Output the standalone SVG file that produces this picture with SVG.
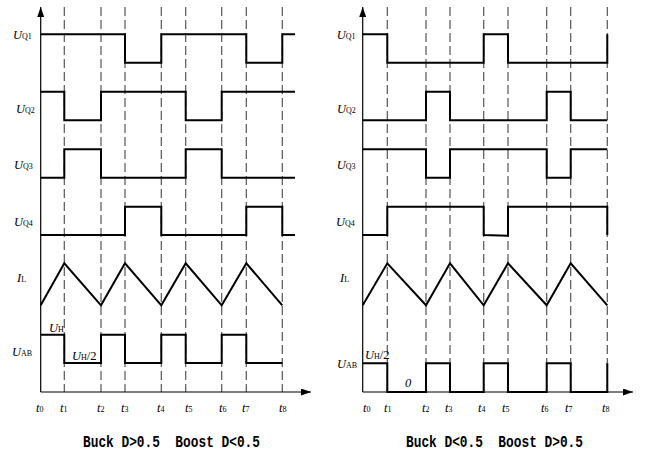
<svg xmlns="http://www.w3.org/2000/svg" width="646" height="453" viewBox="0 0 646 453">
<style>
.ax{stroke:#000;stroke-width:1.2;fill:none}
.dash{stroke:#555;stroke-width:1.2;stroke-dasharray:9 4;fill:none}
.sig{stroke:#000;stroke-width:2;fill:none;stroke-linejoin:miter}
.lb{font-family:"Liberation Serif",serif;font-size:12.5px;font-style:italic;fill:#000}
.sb{font-size:8px;font-style:normal}
.cap{font-family:"Liberation Mono",monospace;font-size:17px;font-weight:bold;fill:#000;white-space:pre}
</style>
<defs>
<marker id="ah" markerWidth="10" markerHeight="7" refX="10" refY="3.5" orient="auto" markerUnits="userSpaceOnUse">
<path d="M0,0 L10,3.5 L0,7 z" fill="#000"/>
</marker>
</defs>
<g id="connectors">
<g id="left-grid">
<path class="dash" d="M64.3,7V392M101,7V392M125,7V392M161.3,7V392M185.7,7V392M221.7,7V392M246.3,7V392M282.3,7V392"/>
<line class="ax" x1="40.7" y1="392" x2="40.7" y2="7" marker-end="url(#ah)"/>
<line class="ax" x1="40.7" y1="392" x2="311" y2="392" marker-end="url(#ah)"/>
</g>
<g id="right-grid">
<path class="dash" d="M387.3,7V392M426,7V392M450,7V392M483.7,7V392M508,7V392M546.7,7V392M570.7,7V392M607.3,7V392"/>
<line class="ax" x1="362.7" y1="392" x2="362.7" y2="7" marker-end="url(#ah)"/>
<line class="ax" x1="362.7" y1="392" x2="633" y2="392" marker-end="url(#ah)"/>
</g>
</g>
<g id="left-signals">
<path id="L-UQ1" class="sig" d="M40.7,34.3H125V62.7H161.3V34.3H246.3V62.7H282.3V34.3H295"/>
<path id="L-UQ2" class="sig" d="M40.7,91.7H64.3V120.3H101V91.7H185.7V120.3H221.7V91.7H295"/>
<path id="L-UQ3" class="sig" d="M40.7,177.7H64.3V149.3H101V177.7H185.7V149.3H221.7V177.7H295"/>
<path id="L-UQ4" class="sig" d="M40.7,235H125V206.7H161.3V235H246.3V206.7H282.3V235H295"/>
<path id="L-IL" class="sig" d="M40.7,305.3L64.3,263.3L101,305.3L125,263.3L161.3,305.3L185.7,263.3L221.7,305.3L246.3,263.3L282.3,305.3"/>
<path id="L-UAB" class="sig" d="M40.7,334.7H64.3V363H101V334.7H125V363H161.3V334.7H185.7V363H221.7V334.7H246.3V363H282.3"/>
</g>
<g id="right-signals">
<path id="R-UQ1" class="sig" d="M362.7,34.3H387.3V62.7H483.7V34.3H508V62.7H607.3V34.3"/>
<path id="R-UQ2" class="sig" d="M362.7,120.3H426V91.7H450V120.3H546.7V91.7H570.7V120.3H607.3"/>
<path id="R-UQ3" class="sig" d="M362.7,149.3H426V177.7H450V149.3H546.7V177.7H570.7V149.3H607.3"/>
<path id="R-UQ4" class="sig" d="M362.7,235H387.3V206.7H483.7V235L508,235.7V206.7H607.3V235"/>
<path id="R-IL" class="sig" d="M362.7,305.3L387.3,263.3L426,305.3L450,263.3L483.7,305.3L508,263.3L546.7,305.3L570.7,263.3L607.3,305.3"/>
<path id="R-UAB" class="sig" d="M362.7,363.3H387.3V392H426V363.3H450V392H483.7V363.3H508V392H546.7V363.3H570.7V392H607.3V363.3"/>
</g>
<g id="left-labels">
<text class="lb" x="13" y="38.5">U<tspan class="sb">Q1</tspan></text>
<text class="lb" x="16" y="112.5">U<tspan class="sb">Q2</tspan></text>
<text class="lb" x="14" y="169">U<tspan class="sb">Q3</tspan></text>
<text class="lb" x="14" y="226">U<tspan class="sb">Q4</tspan></text>
<text class="lb" x="17" y="282">I<tspan class="sb">L</tspan></text>
<text class="lb" x="12" y="356">U<tspan class="sb">AB</tspan></text>
<text class="lb" x="49" y="332">U<tspan class="sb">H</tspan></text>
<text class="lb" x="72" y="360">U<tspan class="sb">H</tspan><tspan font-style="normal">/2</tspan></text>
<text class="lb" x="36" y="412">t<tspan class="sb">0</tspan></text>
<text class="lb" x="60" y="412">t<tspan class="sb">1</tspan></text>
<text class="lb" x="97" y="412">t<tspan class="sb">2</tspan></text>
<text class="lb" x="121" y="412">t<tspan class="sb">3</tspan></text>
<text class="lb" x="157" y="412">t<tspan class="sb">4</tspan></text>
<text class="lb" x="185" y="412">t<tspan class="sb">5</tspan></text>
<text class="lb" x="219" y="412">t<tspan class="sb">6</tspan></text>
<text class="lb" x="242" y="412">t<tspan class="sb">7</tspan></text>
<text class="lb" x="279" y="412">t<tspan class="sb">8</tspan></text>
<text class="cap" x="83" y="447" xml:space="preserve" textLength="177" lengthAdjust="spacingAndGlyphs">Buck D&gt;0.5  Boost D&lt;0.5</text>
</g>
<g id="right-labels">
<text class="lb" x="336.7" y="38.5">U<tspan class="sb">Q1</tspan></text>
<text class="lb" x="337" y="112.5">U<tspan class="sb">Q2</tspan></text>
<text class="lb" x="336.7" y="169">U<tspan class="sb">Q3</tspan></text>
<text class="lb" x="336" y="226">U<tspan class="sb">Q4</tspan></text>
<text class="lb" x="340" y="282">I<tspan class="sb">L</tspan></text>
<text class="lb" x="337" y="368">U<tspan class="sb">AB</tspan></text>
<text class="lb" x="365" y="359">U<tspan class="sb">H</tspan><tspan font-style="normal">/2</tspan></text>
<text class="lb" x="405" y="387">0</text>
<text class="lb" x="363" y="412">t<tspan class="sb">0</tspan></text>
<text class="lb" x="384" y="412">t<tspan class="sb">1</tspan></text>
<text class="lb" x="422" y="412">t<tspan class="sb">2</tspan></text>
<text class="lb" x="445" y="412">t<tspan class="sb">3</tspan></text>
<text class="lb" x="478" y="412">t<tspan class="sb">4</tspan></text>
<text class="lb" x="502" y="412">t<tspan class="sb">5</tspan></text>
<text class="lb" x="541" y="412">t<tspan class="sb">6</tspan></text>
<text class="lb" x="565" y="412">t<tspan class="sb">7</tspan></text>
<text class="lb" x="602" y="412">t<tspan class="sb">8</tspan></text>
<text class="cap" x="406" y="447" xml:space="preserve" textLength="177" lengthAdjust="spacingAndGlyphs">Buck D&lt;0.5  Boost D&gt;0.5</text>
</g>
</svg>
